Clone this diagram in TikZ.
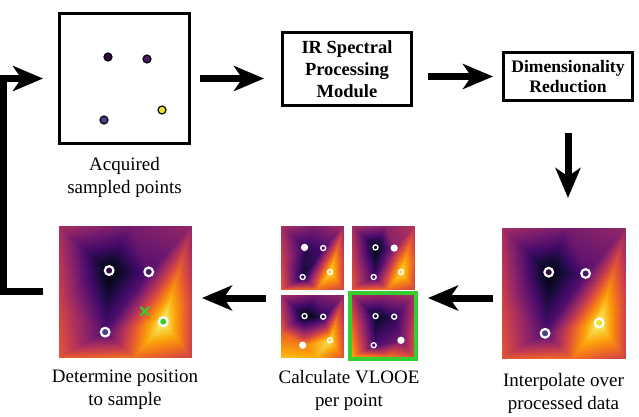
\documentclass[tikz,border=0pt]{standalone}
\usepackage{fontspec}
\setmainfont{Liberation Serif}
\usepackage{tikz}
\usepackage{pgfplots}
\pgfplotsset{compat=1.18}
\usetikzlibrary{arrows.meta, positioning, calc, shapes.misc}

\definecolor{dotA}{RGB}{48,10,66}
\definecolor{dotB}{RGB}{70,28,104}
\definecolor{dotC}{RGB}{74,64,130}
\definecolor{dotD}{RGB}{238,226,44}
\definecolor{sgreen}{RGB}{52,206,46}

\pgfplotsset{
  colormap={inferno}{rgb255(0cm)=(0,0,4) rgb255(1cm)=(22,11,57) rgb255(2cm)=(66,10,104)
    rgb255(3cm)=(106,23,110) rgb255(4cm)=(147,38,103) rgb255(5cm)=(188,55,84)
    rgb255(6cm)=(221,81,58) rgb255(7cm)=(243,120,25) rgb255(8cm)=(252,165,10)
    rgb255(9cm)=(246,215,70) rgb255(10cm)=(252,255,164)},
  heatax/.style={
    hide axis, scale only axis, enlargelimits=false, clip=false,
    xmin=0, xmax=1, ymin=0, ymax=1, y dir=reverse,
    colormap name=inferno, point meta min=0, point meta max=1,
    anchor=north west, table/row sep=\\
  }
}

% grid nodes: 4 corners, 4 edge points, 4 samples; one value column per map
\pgfplotstableread{
x    y    cI   cA   cB   cC   cD
0    0    0.45 0.45 0.45 0.45 0.45
0.53 0    0.33 0.35 0.38 0.33 0.40
1    0    0.40 0.43 0.48 0.40 0.46
1    0.55 0.55 0.55 0.62 0.55 0.55
1    1    0.55 0.55 0.55 0.60 0.60
0.57 1    0.68 0.68 0.68 0.82 0.70
0    1    0.62 0.62 0.62 0.85 0.80
0    0.57 0.55 0.55 0.55 0.62 0.68
0.38 0.34 0.00 0.15 0.00 0.00 0.05
0.68 0.35 0.25 0.22 0.38 0.15 0.15
0.35 0.81 0.24 0.10 0.20 0.72 0.22
0.79 0.73 0.97 0.92 0.92 0.92 0.32
}\verttab

\newcommand{\heatpanel}[5]{%
  \begin{axis}[heatax, at={(#1)}, width=#2, height=#3]
    \addplot[patch, shader=interp, point meta=explicit,
      patch table={8 9 10\\ 9 10 11\\ 0 1 8\\ 1 9 8\\ 1 2 9\\ 2 11 9\\ 2 3 11\\
        3 4 11\\ 4 5 11\\ 5 10 11\\ 5 6 10\\ 6 7 10\\ 7 8 10\\ 7 0 8\\}]
      table[x=x, y=y, meta=#4] {\verttab};
    #5
  \end{axis}}

\tikzset{
  stagebox/.style={draw, line width=0.09cm, align=center, inner sep=0,
    font=\fontsize{15.8}{18.7}\selectfont\bfseries},
  caption/.style={align=center, inner sep=0, font=\fontsize{16.2}{19.3}\selectfont},
  panel/.style={inner sep=0, outer sep=0},
  bigarrow/.style={line width=0.21cm, line join=miter,
    -{Stealth[length=0.9cm, width=0.75cm, inset=0.25cm]}},
  sample/.style={draw=black, line width=0.035cm},
  ring/.style={draw=white, line width=0.065cm},
  smallring/.style={draw=white, line width=0.04cm}
}

\begin{document}
\begin{tikzpicture}[x=0.03cm, y=-0.03cm]
  \useasboundingbox (0,0) rectangle (639,417);

  % top row
  \node[stagebox, minimum size=3.9cm] (acq) at (124.5,78.5) {};
  \filldraw[sample, fill=dotA] (108,57) circle[radius=0.12cm];
  \filldraw[sample, fill=dotB] (147,59) circle[radius=0.12cm];
  \filldraw[sample, fill=dotC] (104,120) circle[radius=0.12cm];
  \filldraw[sample, fill=dotD] (162,110) circle[radius=0.12cm];
  \node[caption, below=0.36cm of acq] (acqcap) {Acquired\\sampled points};

  \node[stagebox, minimum width=3.87cm, minimum height=2.19cm] (ir) at (347,69)
    {IR Spectral\\Processing\\Module};
  \node[stagebox, minimum width=3.87cm, minimum height=1.44cm,
    font=\fontsize{15}{17.9}\selectfont\bfseries] (dim) at (568,76.5)
    {Dimensionality\\Reduction};

  % bottom row
  \node[panel, minimum width=3.69cm, minimum height=3.9cm] (interp) at (563.5,293) {};
  \node[panel, minimum width=4.08cm, minimum height=3.99cm] (vlooe) at (349,292.5) {};
  \node[panel, minimum width=3.96cm, minimum height=3.93cm] (det) at (125,291.5) {};

  \heatpanel{interp.north west}{3.69cm}{3.9cm}{cI}{
    \filldraw[ring, fill=dotA] (0.38,0.34) circle[radius=0.13cm];
    \filldraw[ring, fill=dotB] (0.68,0.35) circle[radius=0.13cm];
    \filldraw[ring, fill=dotC] (0.35,0.81) circle[radius=0.13cm];
    \filldraw[ring, fill=dotD] (0.79,0.73) circle[radius=0.13cm];
  }

  \coordinate (vA) at (vlooe.north west);
  \coordinate (vB) at ([shift={(71,0)}]vlooe.north west);
  \coordinate (vC) at ([shift={(0,69)}]vlooe.north west);
  \coordinate (vD) at ([shift={(71,69)}]vlooe.north west);
  \heatpanel{vA}{1.86cm}{1.89cm}{cA}{
    \fill[white] (0.38,0.34) circle[radius=0.11cm];
    \draw[smallring] (0.68,0.35) circle[radius=0.075cm];
    \draw[smallring] (0.35,0.81) circle[radius=0.075cm];
    \draw[smallring] (0.79,0.73) circle[radius=0.075cm];
  }
  \heatpanel{vB}{1.86cm}{1.89cm}{cB}{
    \draw[smallring] (0.38,0.34) circle[radius=0.075cm];
    \fill[white] (0.68,0.35) circle[radius=0.11cm];
    \draw[smallring] (0.35,0.81) circle[radius=0.075cm];
    \draw[smallring] (0.79,0.73) circle[radius=0.075cm];
  }
  \heatpanel{vC}{1.86cm}{1.86cm}{cC}{
    \draw[smallring] (0.38,0.34) circle[radius=0.075cm];
    \draw[smallring] (0.68,0.35) circle[radius=0.075cm];
    \fill[white] (0.35,0.81) circle[radius=0.11cm];
    \draw[smallring] (0.79,0.73) circle[radius=0.075cm];
  }
  \heatpanel{vD}{1.86cm}{1.86cm}{cD}{
    \draw[smallring] (0.38,0.34) circle[radius=0.075cm];
    \draw[smallring] (0.68,0.35) circle[radius=0.075cm];
    \draw[smallring] (0.35,0.81) circle[radius=0.075cm];
    \fill[white] (0.79,0.73) circle[radius=0.11cm];
  }
  \draw[sgreen, line width=0.12cm] ([shift={(-2,-2)}]vD) rectangle ([shift={(64,64)}]vD);

  \heatpanel{det.north west}{3.96cm}{3.93cm}{cI}{
    \filldraw[ring, fill=dotA] (0.38,0.34) circle[radius=0.13cm];
    \filldraw[ring, fill=dotB] (0.68,0.35) circle[radius=0.13cm];
    \filldraw[ring, fill=dotC] (0.35,0.81) circle[radius=0.13cm];
    \filldraw[ring, fill=sgreen] (0.79,0.73) circle[radius=0.13cm];
    \node[cross out, draw=sgreen, line width=0.06cm, minimum size=0.2cm, inner sep=0] (pick) at (0.65,0.65) {};
  }

  \node[caption, below=0.45cm of interp] (interpcap) {Interpolate over\\processed data};
  \node[caption, below=0.33cm of vlooe] (vlooecap) {Calculate VLOOE\\per point};
  \node[caption, below=0.39cm of det] (detcap) {Determine position\\to sample};

  % arrows
  \draw[bigarrow, shorten <=0.27cm, shorten >=0.51cm] (acq.east) -- (acq.east -| ir.west);
  \draw[bigarrow, shorten <=0.45cm, shorten >=0.27cm] (ir.east |- dim.west) -- (dim.west);
  \draw[bigarrow, shorten <=0.93cm, shorten >=0.9cm] (dim.south) -- (dim.south |- interp.north);
  \coordinate (lowrow) at ([yshift=-0.15cm]interp.west);
  \draw[bigarrow, shorten <=0.27cm, shorten >=0.33cm] (lowrow) -- (lowrow -| vlooe.east);
  \draw[bigarrow, shorten <=0.45cm, shorten >=0.33cm] (lowrow -| vlooe.west) -- (lowrow -| det.east);
  \coordinate (loopfoot) at (3.5,291.5);
  \draw[bigarrow, shorten <=0.48cm, shorten >=0.45cm] (det.west) -- (loopfoot) |- (acq.west);
\end{tikzpicture}
\end{document}
